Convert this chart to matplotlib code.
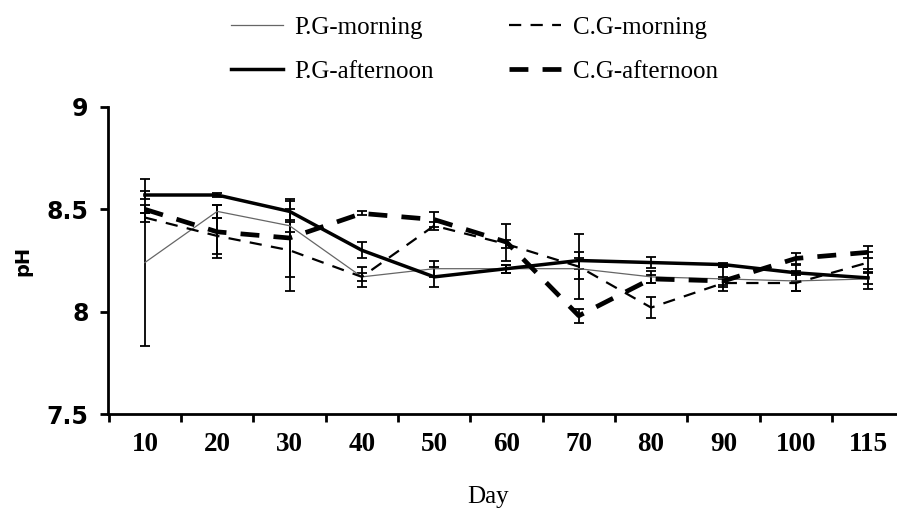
import numpy as np
import matplotlib
matplotlib.use('Agg')
import matplotlib.pyplot as plt

days = ['10', '20', '30', '40', '50', '60', '70', '80', '90', '100', '115']

pg_morning = [8.24, 8.49, 8.42, 8.17, 8.21, 8.21, 8.21, 8.17, 8.16, 8.15, 8.16]
pg_morning_err = [0.41, 0.03, 0.03, 0.05, 0.04, 0.02, 0.05, 0.03, 0.06, 0.05, 0.05]
pg_afternoon = [8.57, 8.57, 8.49, 8.30, 8.17, 8.21, 8.25, 8.24, 8.23, 8.19, 8.165]
pg_afternoon_err = [0.02, 0.01, 0.05, 0.04, 0.05, 0.02, 0.04, 0.025, 0.01, 0.04, 0.03]
cg_morning = [8.46, 8.37, 8.30, 8.17, 8.42, 8.33, 8.22, 8.02, 8.14, 8.14, 8.24]
cg_morning_err = [0.02, 0.09, 0.20, 0.02, 0.02, 0.02, 0.16, 0.05, 0.02, 0.04, 0.05]
cg_afternoon = [8.50, 8.39, 8.36, 8.48, 8.45, 8.34, 7.98, 8.16, 8.15, 8.26, 8.29]
cg_afternoon_err = [0.02, 0.13, 0.19, 0.01, 0.035, 0.09, 0.035, 0.02, 0.02, 0.025, 0.03]

x = np.arange(len(days))

fig = plt.figure(figsize=(8.97, 5.13), dpi=100)
ax = fig.add_axes([108/897, 1-414/513, 1-108/897, (414-107)/513])

eb = dict(ecolor='black', elinewidth=1.3, capsize=3.5, capthick=1.3)

# series
l1 = ax.errorbar(x, pg_morning, yerr=pg_morning_err, color='#666666', lw=0.9, **eb)
l2 = ax.errorbar(x, pg_afternoon, yerr=pg_afternoon_err, color='black', lw=2.5, **eb)
l3 = ax.errorbar(x, cg_morning, yerr=cg_morning_err, color='black', lw=1.6,
                 dashes=(5.5, 4.2), **eb)
l4 = ax.errorbar(x, cg_afternoon, yerr=cg_afternoon_err, color='black', lw=3.4,
                 dashes=(4.0, 3.0), **eb)

ax.set_xlim(-0.51, 10.4)
ax.set_ylim(7.5, 9)
ax.set_yticks([7.5, 8, 8.5, 9])
ax.set_yticklabels(['7.5', '8', '8.5', '9'], fontfamily='DejaVu Sans',
                   fontweight='bold', fontsize=17)
ax.set_xticks(x)
ax.set_xticklabels(days, fontfamily='Liberation Serif', fontweight='bold', fontsize=19.5)
ax.set_xticks(np.arange(-0.5, 10, 1), minor=True)
ax.tick_params(axis='x', which='major', length=0, pad=13)
ax.tick_params(axis='x', which='minor', length=6, width=2, direction='out')
ax.tick_params(axis='y', length=6, width=2, direction='out', pad=8)

for s in ['top', 'right']:
    ax.spines[s].set_visible(False)
for s in ['left', 'bottom']:
    ax.spines[s].set_linewidth(2)

ax.set_ylabel('pH', fontfamily='DejaVu Sans', fontweight='bold', fontsize=14, labelpad=10)
fig.text(488/897, 1-497/513, 'Day', fontfamily='Liberation Serif', fontsize=18,
         ha='center', va='center')

fig.legend([l1[0], l2[0], l3[0], l4[0]],
           ['P.G-morning', 'P.G-afternoon', 'C.G-morning', 'C.G-afternoon'],
           ncol=2, loc='upper left', bbox_to_anchor=(208/897, 1.012), frameon=False,
           prop={'family': 'Liberation Serif', 'size': 18},
           handlelength=2.1, handletextpad=0.45, columnspacing=3.0, labelspacing=0.85)

plt.savefig('out.png', dpi=100)
